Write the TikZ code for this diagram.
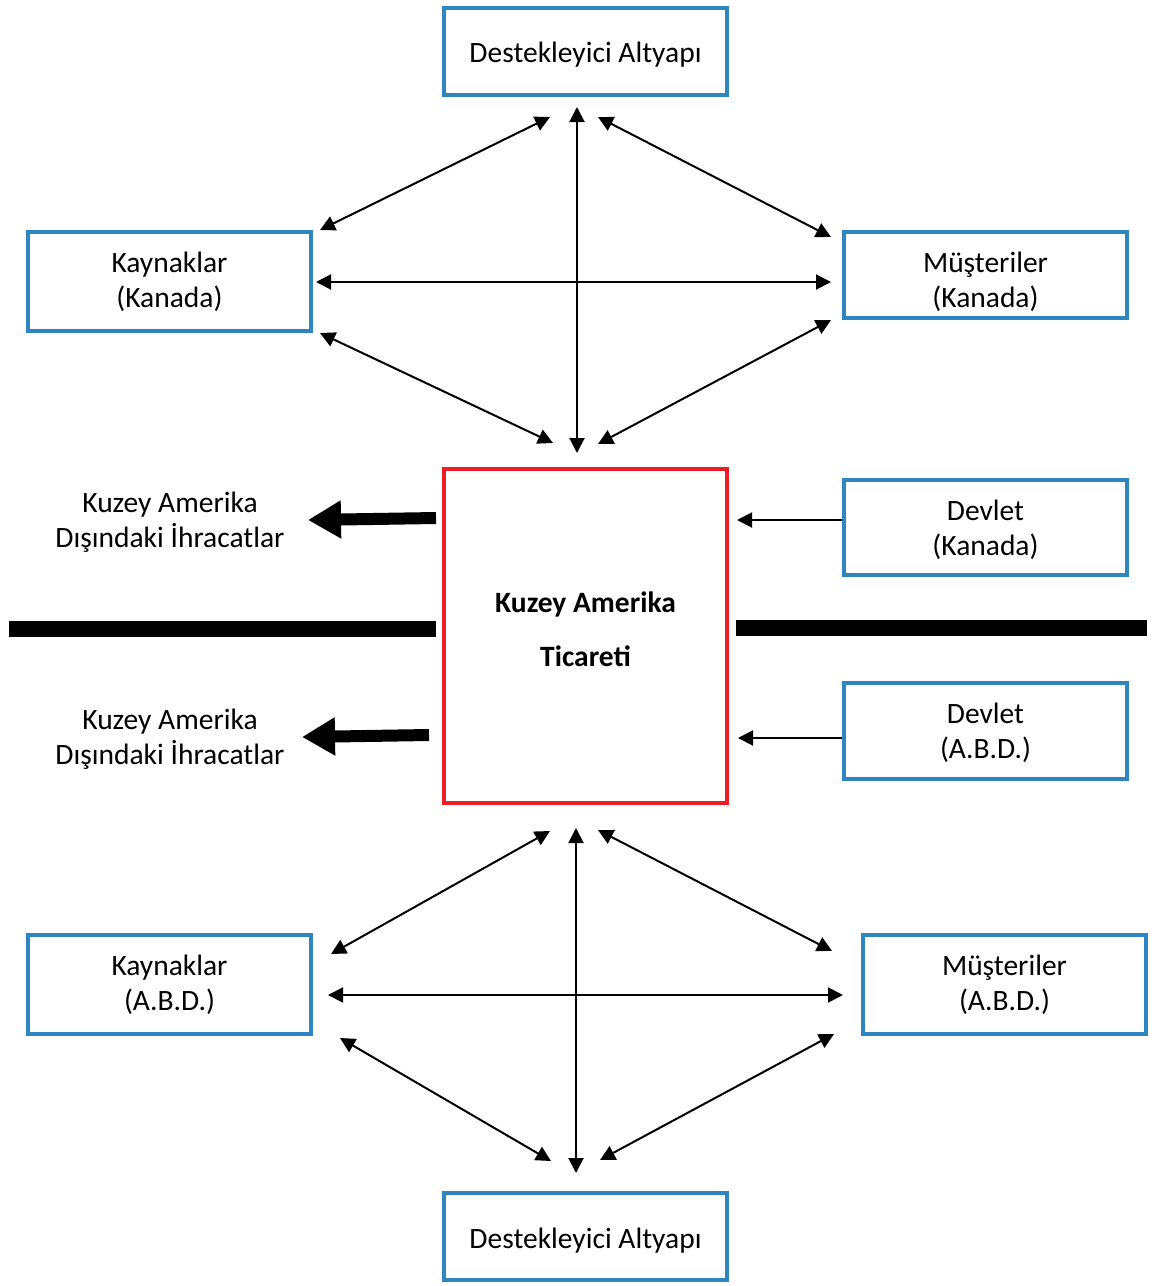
\documentclass[tikz,border=0pt]{standalone}
\usepackage{fontspec}
\setmainfont{Carlito}
\usetikzlibrary{arrows.meta}
\definecolor{boxblue}{RGB}{46,134,193}
\definecolor{boxred}{RGB}{238,28,36}
\tikzset{
  unit/.style={draw=boxblue, line width=4pt, minimum width=283pt, align=center,
    font=\fontsize{29.5}{35}\selectfont, inner sep=0pt},
  core/.style={draw=boxred, line width=4pt, minimum width=283pt, minimum height=334pt,
    inner sep=0pt},
  coretext/.style={align=center, font=\bfseries\fontsize{29.5}{54}\selectfont, inner sep=0pt},
  plain/.style={align=center, font=\fontsize{29.5}{35}\selectfont, inner sep=0pt},
  link/.style={line width=2pt, {Triangle[length=15pt,width=15pt]}-{Triangle[length=15pt,width=15pt]}},
  feed/.style={line width=2pt, -{Triangle[length=15pt,width=15pt]}},
  export/.style={line width=12pt, -{Triangle[length=33pt,width=36pt]}},
  divider/.style={line width=16pt}
}
\begin{document}
\begin{tikzpicture}[x=1pt,y=-1pt]
\useasboundingbox (0,0) rectangle (1154,1286);

% boxes
\node[unit, minimum height=87pt] (infraTbox) at (585.5,51.5) {};
\node[plain] (infraT) at (585.5,55) {Destekleyici Altyapı};
\node[unit, minimum height=99pt] (srcCA) at (169.5,281.5) {Kaynaklar\\(Kanada)};
\node[unit, minimum height=86pt] (cusCAbox) at (985.5,275) {};
\node[plain] (cusCA) at (985.5,281.5) {Müşteriler\\(Kanada)};
\node[unit, minimum height=95pt] (govCAbox) at (985.5,527.5) {};
\node[plain] (govCA) at (985.5,529.5) {Devlet\\(Kanada)};
\node[unit, minimum height=96pt] (govUSbox) at (985.5,731) {};
\node[plain] (govUS) at (985.5,733) {Devlet\\(A.B.D.)};
\node[core] (trade) at (585.5,636) {};
\node[coretext] (tradeText) at (585.5,629) {Kuzey Amerika\\Ticareti};
\node[unit, minimum height=99pt] (srcUS) at (169.5,984.5) {Kaynaklar\\(A.B.D.)};
\node[unit, minimum height=99pt] (cusUS) at (1004.5,984.5) {Müşteriler\\(A.B.D.)};
\node[unit, minimum height=87pt] (infraBbox) at (585.5,1236.5) {};
\node[plain] (infraB) at (585.5,1241) {Destekleyici Altyapı};

% export labels
\node[plain] (expCA) at (170,522) {Kuzey Amerika\\Dışındaki İhracatlar};
\node[plain] (expUS) at (170,739) {Kuzey Amerika\\Dışındaki İhracatlar};

% arrow end points, upper group
\coordinate (tV1) at (577,107);  \coordinate (tV2) at (577,453);
\coordinate (tH1) at (316,282);  \coordinate (tH2) at (831,282);
\coordinate (tA1) at (550,117);  \coordinate (tA2) at (320,230);
\coordinate (tB1) at (598,117);  \coordinate (tB2) at (831,237);
\coordinate (tC1) at (320,333);  \coordinate (tC2) at (553,443);
\coordinate (tD1) at (598,444);  \coordinate (tD2) at (831,320);
% arrow end points, lower group
\coordinate (bV1) at (576,828);  \coordinate (bV2) at (576,1173);
\coordinate (bH1) at (328,995);  \coordinate (bH2) at (843,995);
\coordinate (bA1) at (550,831);  \coordinate (bA2) at (331,954);
\coordinate (bB1) at (598,830);  \coordinate (bB2) at (832,951);
\coordinate (bC1) at (340,1038); \coordinate (bC2) at (551,1161);
\coordinate (bD1) at (600,1160); \coordinate (bD2) at (834,1034);

\draw[link] (tV1) -- (tV2);
\draw[link] (tH1) -- (tH2);
\draw[link] (tA1) -- (tA2);
\draw[link] (tB1) -- (tB2);
\draw[link] (tC1) -- (tC2);
\draw[link] (tD1) -- (tD2);
\draw[link] (bV1) -- (bV2);
\draw[link] (bH1) -- (bH2);
\draw[link] (bA1) -- (bA2);
\draw[link] (bB1) -- (bB2);
\draw[link] (bC1) -- (bC2);
\draw[link] (bD1) -- (bD2);

% government inputs
\coordinate (gCAin) at (737,520);
\coordinate (gUSin) at (738,738);
\draw[feed] (govCAbox.west |- gCAin) -- (gCAin);
\draw[feed] (govUSbox.west |- gUSin) -- (gUSin);

% exports leaving the region
\coordinate (eCA1) at (436,518); \coordinate (eCA2) at (308,520);
\coordinate (eUS1) at (429,735); \coordinate (eUS2) at (302,737);
\draw[export] (eCA1) -- (eCA2);
\draw[export] (eUS1) -- (eUS2);

% border line between the two countries
\coordinate (dL1) at (9,629);   \coordinate (dL2) at (436,629);
\coordinate (dR1) at (736,628); \coordinate (dR2) at (1147,628);
\draw[divider] (dL1) -- (dL2);
\draw[divider] (dR1) -- (dR2);
\end{tikzpicture}
\end{document}
